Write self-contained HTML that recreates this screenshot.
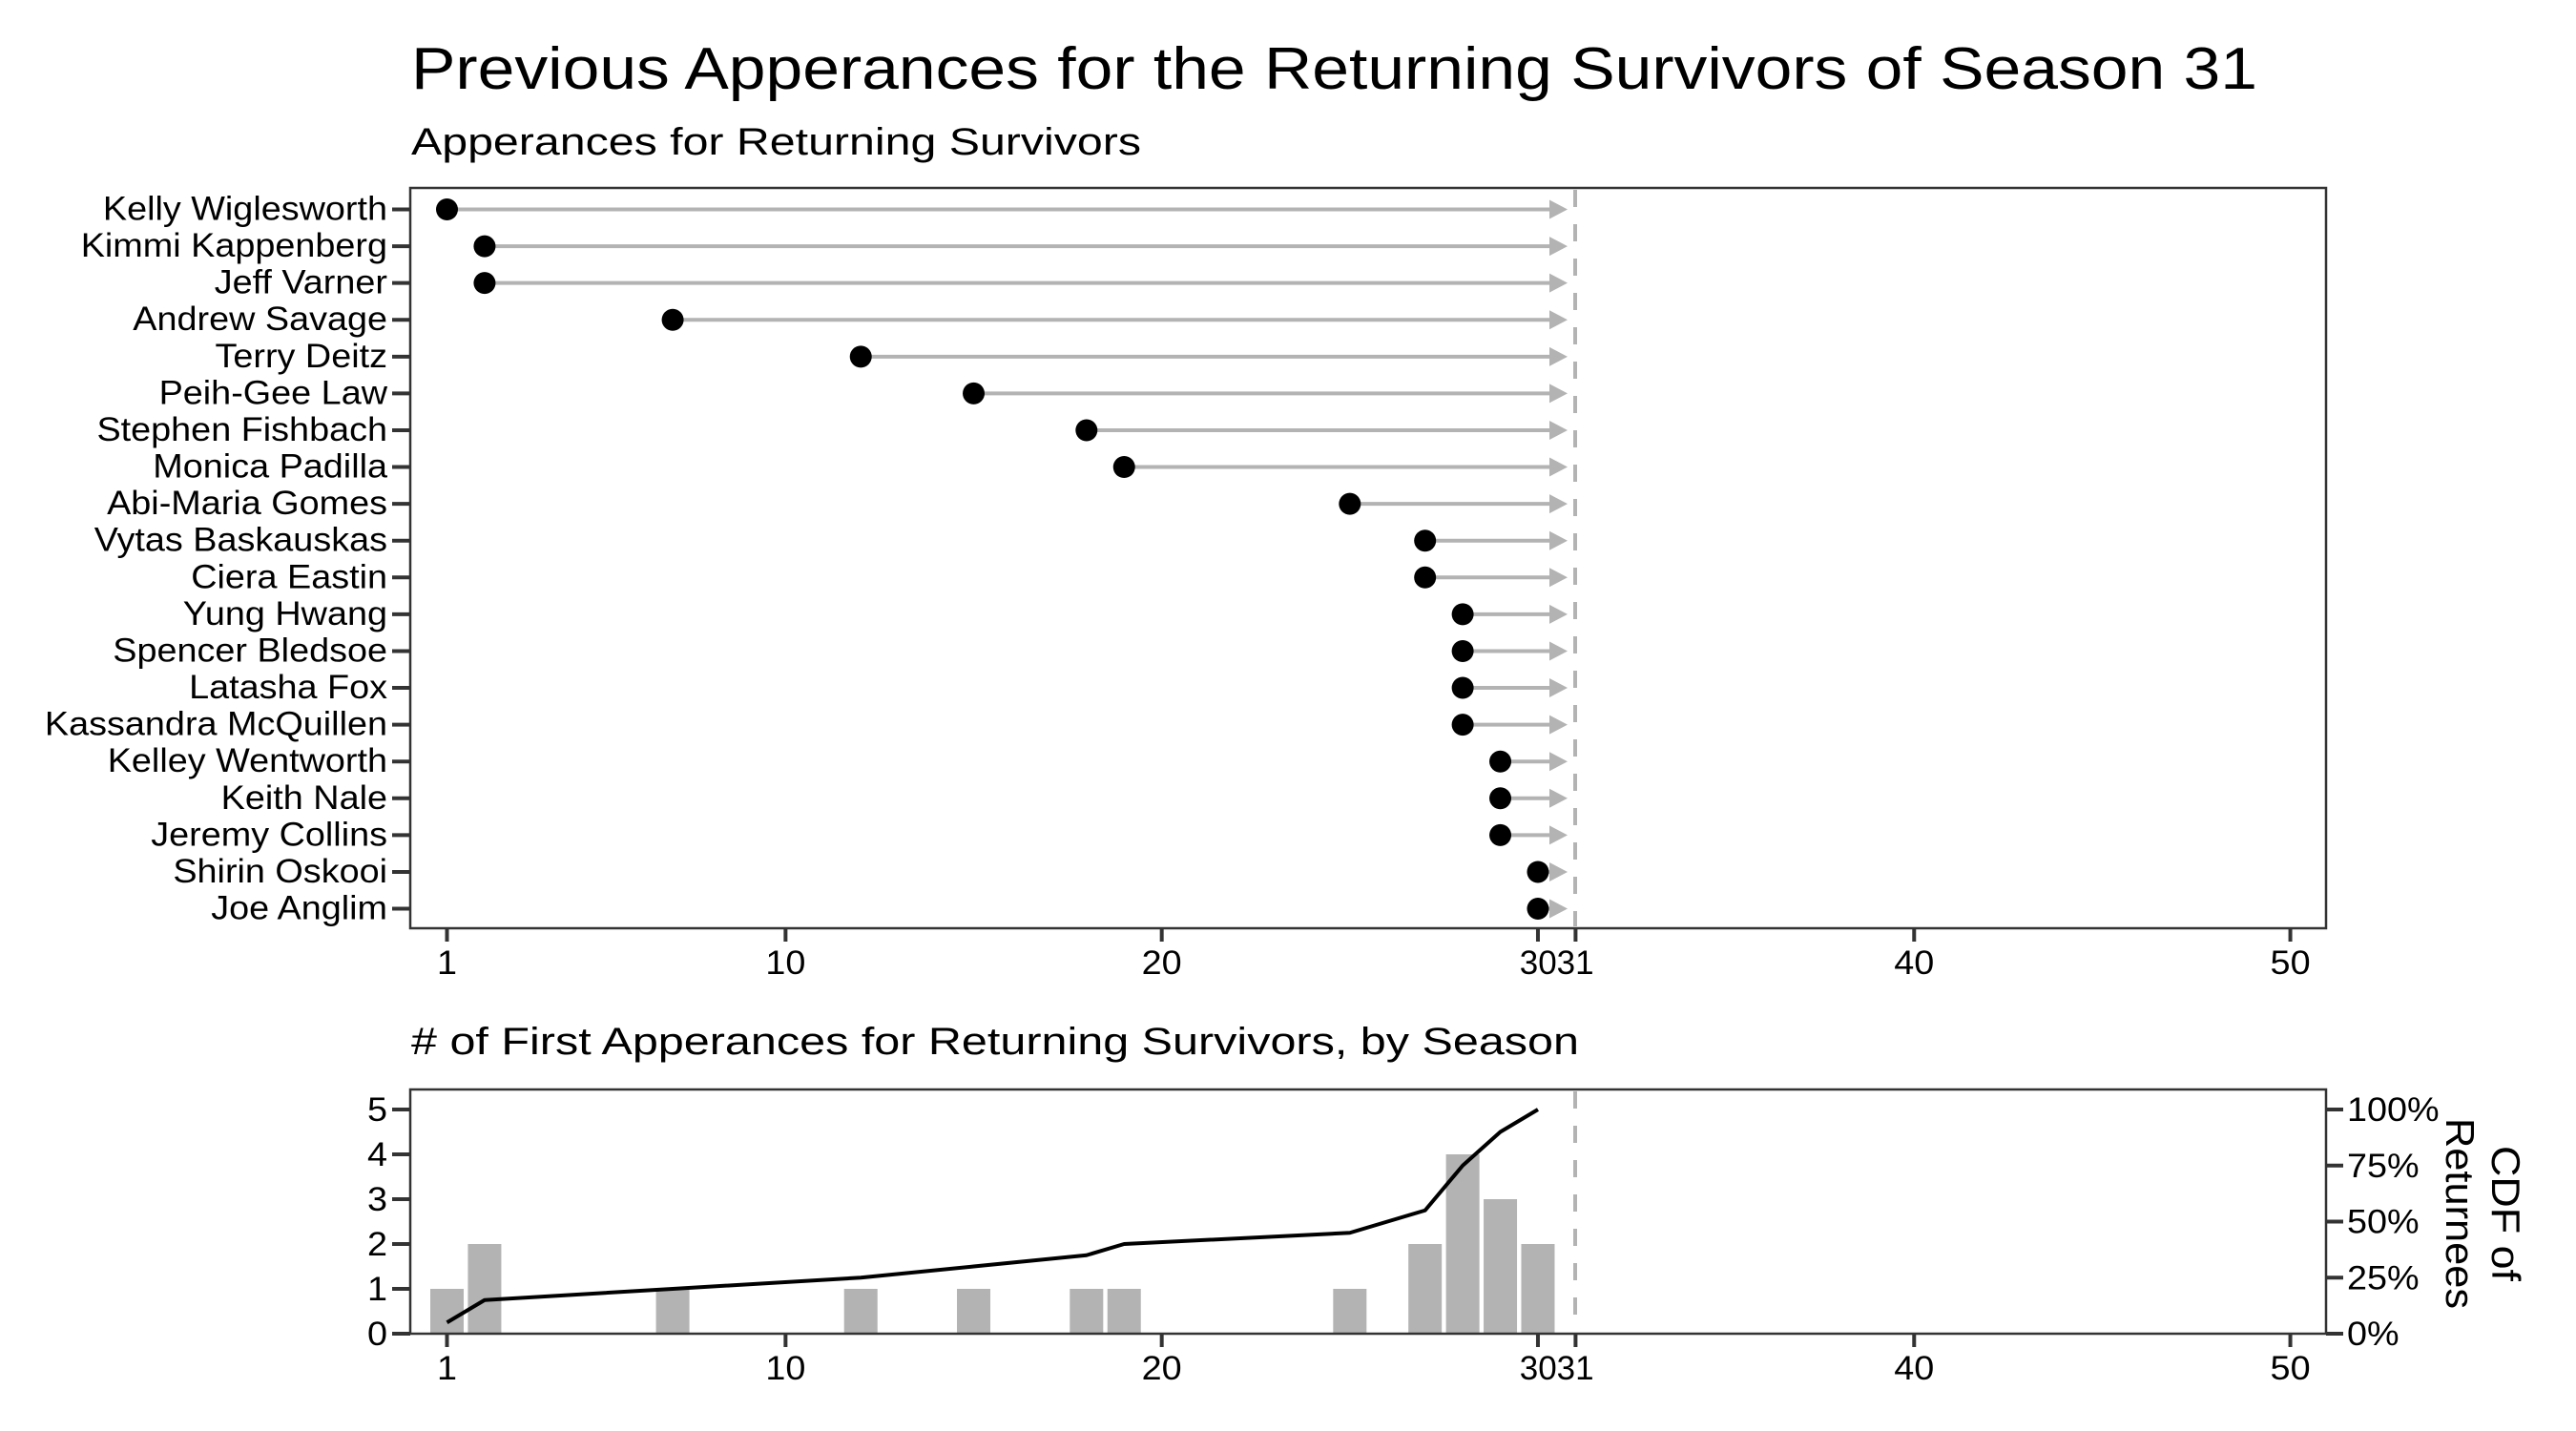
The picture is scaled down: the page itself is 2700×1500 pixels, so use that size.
<!DOCTYPE html>
<html><head><meta charset="utf-8"><style>
html,body{margin:0;padding:0;background:#fff;}
svg{display:block;}
text{font-family:"Liberation Sans",sans-serif;fill:#000;}
</style></head><body>
<svg width="2700" height="1500" viewBox="0 0 2700 1500" xmlns="http://www.w3.org/2000/svg">
<rect width="2700" height="1500" fill="#fff"/>
<text x="431" y="93" font-size="62" textLength="1935" lengthAdjust="spacingAndGlyphs">Previous Apperances for the Returning Survivors of Season 31</text>
<text x="431" y="162" font-size="40" textLength="765" lengthAdjust="spacingAndGlyphs">Apperances for Returning Survivors</text>

<g id="up"></g>
<rect x="430" y="197" width="2008" height="776" fill="none" stroke="#333" stroke-width="2.5"/>
<line x1="1651" y1="199" x2="1651" y2="971" stroke="#b3b3b3" stroke-width="4" stroke-dasharray="18,18"/>

<text x="431" y="1105" font-size="40" textLength="1224" lengthAdjust="spacingAndGlyphs"># of First Apperances for Returning Survivors, by Season</text>
<g id="low"></g>
<rect x="430" y="1142" width="2008" height="256" fill="none" stroke="#333" stroke-width="2.5"/>
<line x1="1651" y1="1144" x2="1651" y2="1396" stroke="#b3b3b3" stroke-width="4" stroke-dasharray="18,18"/>
<g transform="translate(2600,1272) rotate(90)">
<text x="0" y="-12" font-size="42" text-anchor="middle" textLength="142" lengthAdjust="spacingAndGlyphs">CDF of</text>
<text x="0" y="36" font-size="42" text-anchor="middle" textLength="200" lengthAdjust="spacingAndGlyphs">Returnees</text>
</g>
</svg>
<script>
const NS="http://www.w3.org/2000/svg";
function el(p,t,a,txt){const e=document.createElementNS(NS,t);for(const k in a)e.setAttribute(k,a[k]);if(txt!==undefined)e.textContent=txt;p.appendChild(e);return e;}
const X=s=>468.5+(s-1)*39.43;
const up=document.getElementById('up'),low=document.getElementById('low');
const people=[["Kelly Wiglesworth",1],["Kimmi Kappenberg",2],["Jeff Varner",2],["Andrew Savage",7],["Terry Deitz",12],["Peih-Gee Law",15],["Stephen Fishbach",18],["Monica Padilla",19],["Abi-Maria Gomes",25],["Vytas Baskauskas",27],["Ciera Eastin",27],["Yung Hwang",28],["Spencer Bledsoe",28],["Latasha Fox",28],["Kassandra McQuillen",28],["Kelley Wentworth",29],["Keith Nale",29],["Jeremy Collins",29],["Shirin Oskooi",30],["Joe Anglim",30]];
function T(p,x,y,txt,anchor,sx){const g=el(p,'g',{transform:`translate(${x},${y}) scale(${sx||1.08},1)`});el(g,'text',{x:0,y:0,'font-size':35,'text-anchor':anchor||'start'},txt);}
people.forEach((p,i)=>{const y=219.5+i*38.58;const x=X(p[1]);
el(up,'line',{x1:x,y1:y,x2:1627,y2:y,stroke:'#b3b3b3','stroke-width':4});
el(up,'polygon',{points:`1624,${y-10} 1643,${y} 1624,${y+10}`,fill:'#b3b3b3'});
el(up,'circle',{cx:x,cy:y,r:11.5,fill:'#000'});
el(up,'line',{x1:411,y1:y,x2:430,y2:y,stroke:'#333','stroke-width':4});
T(up,406,y+11,p[0],'end');});
[[973,1021],[1398,1446]].forEach(([b,ty])=>{
[1,10,20,30,31,40,50].forEach(s=>el(up,'line',{x1:X(s),y1:b,x2:X(s),y2:b+14,stroke:'#333','stroke-width':4}));
[[1,'1'],[10,'10'],[20,'20'],[40,'40'],[50,'50']].forEach(t=>T(up,X(t[0]),ty,t[1],'middle'));
T(up,X(30.5),ty,'3031','middle',1.0);
});
const Y=v=>1398-v*47;
const counts={1:1,2:2,7:1,12:1,15:1,18:1,19:1,25:1,27:2,28:4,29:3,30:2};
let cum=0,pts=[];
Object.keys(counts).map(Number).sort((a,b)=>a-b).forEach(s=>{const c=counts[s];
el(low,'rect',{x:X(s)-17.5,y:Y(c),width:35,height:c*47,fill:'#b3b3b3'});
cum+=c;pts.push(X(s)+','+Y(cum/20*5));});
el(low,'polyline',{points:pts.join(' '),fill:'none',stroke:'#000','stroke-width':4,'stroke-linejoin':'round'});
for(let v=0;v<=5;v++){el(low,'line',{x1:411,y1:Y(v),x2:430,y2:Y(v),stroke:'#333','stroke-width':4});
T(low,406,Y(v)+12,String(v),'end');}
['0%','25%','50%','75%','100%'].forEach((t,i)=>{const y=Y(i*1.25);
el(low,'line',{x1:2438,y1:y,x2:2456,y2:y,stroke:'#333','stroke-width':4});
T(low,2460,y+12,t,'start');});
</script>
</body></html>
